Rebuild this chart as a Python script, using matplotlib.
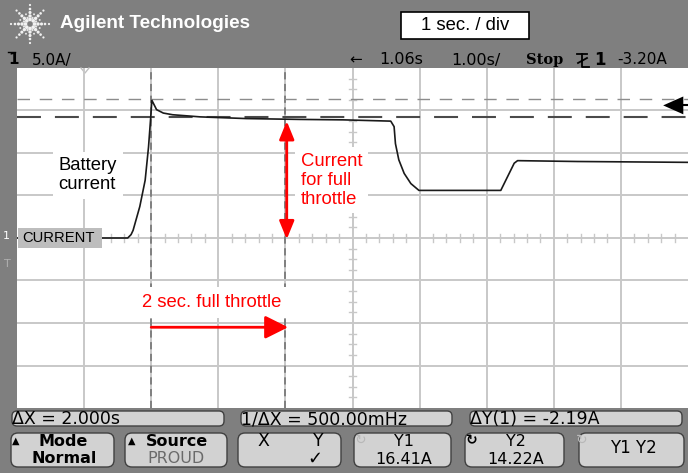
import matplotlib
matplotlib.use("Agg")
from matplotlib import pyplot as plt
from matplotlib.patches import FancyBboxPatch, Rectangle, Polygon
import numpy as np

# trace (time in s, current in A)
time_s = [0.0, 1.65, 1.70, 1.73, 1.83, 1.91, 1.96, 1.99, 2.01, 2.08, 2.18, 2.32,
          2.73, 3.42, 4.22, 4.86, 5.57, 5.62, 5.64, 5.69, 5.77, 5.87, 5.99,
          7.21, 7.31, 7.41, 7.46, 8.35, 10.0]
current_a = [0.0, 0.0, 0.4, 0.9, 3.7, 6.8, 10.7, 13.9, 16.2, 15.1, 14.7, 14.5,
             14.25, 14.05, 13.95, 13.9, 13.75, 13.1, 11.1, 9.2, 7.6, 6.4, 5.6,
             5.6, 7.2, 8.8, 9.1, 9.0, 8.9]

x_cursors = [2.0, 4.0]
y1_cursor = 16.41
y2_cursor = 14.22

top_labels = ["5.0A/", "\u2190", "1.06s", "1.00s/", "Stop", "1", "-3.20A"]
status_labels = ["\u0394X = 2.000s", "1/\u0394X = 500.00mHz", "\u0394Y(1) = -2.19A"]

W, H = 688, 473
BG = '#7f7f7f'
fig = plt.figure(figsize=(W / 100, H / 100), dpi=100, facecolor=BG)

# frame of the instrument, drawn underneath in pixel coordinates
ov = fig.add_axes([0, 0, 1, 1], zorder=0)
ov.set_xlim(0, W)
ov.set_ylim(H, 0)
ov.axis('off')
ov.add_patch(Rectangle((0, 0), W, H, facecolor=BG, edgecolor='none', zorder=0))
ov.add_patch(Rectangle((17, 68), 671, 340, facecolor='white', edgecolor='none', zorder=1))

# the scope screen, 10 div x 8 div, 1 s/div and 5 A/div
ax = fig.add_axes([17 / W, (H - 408) / H, 671 / W, 340 / H], zorder=1)
ax.patch.set_alpha(0)
ax.set_xlim(0, 10)
ax.set_ylim(-20, 20)
for s in ax.spines.values():
    s.set_visible(False)
ax.set_xticks([])
ax.set_yticks([])

grid_c = '#c8c8c8'
for i in range(1, 10):
    ax.axvline(i, color=grid_c, lw=1.4, zorder=1)
for j in range(-3, 4):
    ax.axhline(j * 5, color=grid_c, lw=1.4, zorder=1)
# small ticks on the centre lines
for k in range(1, 50):
    if k % 5:
        ax.plot([k * 0.2, k * 0.2], [-0.45, 0.45], color=grid_c, lw=1.0, zorder=1)
for k in range(-15, 16):
    if k % 4:
        ax.plot([4.95, 5.05], [k * 1.25, k * 1.25], color=grid_c, lw=1.0, zorder=1)

# cursors
for xc in x_cursors:
    ax.axvline(xc, color='#7a7a7a', lw=1.3, ls=(0, (4, 2.5)), zorder=2)
ax.axhline(y1_cursor, color='#8c8c8c', lw=1.0, ls=(0, (9, 7)), zorder=2)
ax.axhline(y2_cursor, color='#4a4a4a', lw=1.5, ls=(0, (11.5, 6.7)), zorder=2)

ax.plot(time_s, current_a, color='#1a1a1a', lw=1.2, zorder=4)

# annotations
txt_font = ['Liberation Sans', 'DejaVu Sans']
ax.text(0.62, 7.4, "Battery\ncurrent", fontsize=13.3, family=txt_font, color='black',
        ha='left', va='center', linespacing=1.15, zorder=5,
        bbox=dict(facecolor='white', edgecolor='none', pad=4))
ax.text(4.23, 6.8, "Current\nfor full\nthrottle", fontsize=13.3, family=txt_font,
        color='red', ha='left', va='center', linespacing=1.15, zorder=5,
        bbox=dict(facecolor='white', edgecolor='none', pad=4))
ax.text(1.86, -7.55, "2 sec. full throttle", fontsize=13.3, family=txt_font,
        color='red', ha='left', va='center', zorder=5,
        bbox=dict(facecolor='white', edgecolor='none', pad=5))
ax.annotate("", xy=(4.04, -10.5), xytext=(x_cursors[0], -10.5), zorder=6,
            arrowprops=dict(arrowstyle='-|>,head_length=1.4,head_width=0.7',
                            color='red', lw=2, shrinkA=0, shrinkB=0))
ax.annotate("", xy=(4.02, 13.75), xytext=(4.02, -0.15), zorder=6,
            arrowprops=dict(arrowstyle='<|-|>,head_length=1.1,head_width=0.45',
                            color='red', lw=2, shrinkA=0, shrinkB=0))

# ground label of channel 1 (covers the start of the trace)
ax.add_patch(Rectangle((0.015, -1.18), 1.25, 2.36, facecolor='#bdbdbd',
                       edgecolor='none', zorder=7))
ax.text(0.075, 0.0, "CURRENT", fontsize=10.6, family=txt_font, color='black',
        ha='left', va='center', zorder=8)
# trigger level marker
ax.add_patch(Polygon([[9.63, 15.6], [9.93, 16.65], [9.93, 14.55]], closed=True,
                     facecolor='black', edgecolor='none', zorder=7))
ax.plot([9.93, 10.0], [15.6, 15.6], color='black', lw=1.5, zorder=7)

# logo
cx, cy = 30, 24
for ang in np.arange(0, 360, 45):
    r = np.array([4.5, 8, 11.5, 15, 19])
    ov.scatter(cx + r * np.cos(np.radians(ang)), cy + r * np.sin(np.radians(ang)),
               s=[7, 6, 5, 3.5, 2.5], color='#f2f2f2', lw=0, zorder=3)
for ang in np.arange(22.5, 360, 45):
    r = np.array([6.5, 10.5])
    ov.scatter(cx + r * np.cos(np.radians(ang)), cy + r * np.sin(np.radians(ang)),
               s=[3, 2], color='#e6e6e6', lw=0, zorder=3)
ov.text(60, 23, "Agilent Technologies", fontsize=13.6, fontweight='bold',
        family=txt_font, color='white', ha='left', va='center')

ov.add_patch(Rectangle((401, 12), 128, 27, facecolor='white', edgecolor='black',
                       lw=1.2, zorder=3))
ov.text(465, 26, "1 sec. / div", fontsize=13.3, family=txt_font, ha='center', va='center')

scope_font = 'DejaVu Sans'
ov.text(8, 60, "1", fontsize=11, fontweight='bold', family=scope_font, va='center')
ov.plot([8, 15], [52, 52], color='black', lw=1)
ov.text(32, 60, top_labels[0], fontsize=11, family=scope_font, va='center')
ov.text(349, 60, top_labels[1], fontsize=11, family=scope_font, va='center')
ov.text(379, 60, top_labels[2], fontsize=11.5, family=scope_font, va='center')
ov.text(451, 60, top_labels[3], fontsize=11.5, family=scope_font, va='center')
ov.text(526, 60, top_labels[4], fontsize=10.5, fontweight='bold', family='DejaVu Serif', va='center')
# trigger slope symbol
ov.plot([577, 587], [54, 54], color='black', lw=1.3)
ov.plot([582, 582, 589], [54, 67, 67], color='black', lw=1.3)
ov.plot([578, 587], [63, 58], color='black', lw=1.3)
ov.text(594, 60, top_labels[5], fontsize=12, fontweight='bold', family=scope_font, va='center')
ov.text(617, 60, top_labels[6], fontsize=11, family=scope_font, va='center')

# markers on the screen edges
ov.plot([81, 85, 89], [68, 73, 68], color='#c0c0c0', lw=1, zorder=3)
ov.text(3, 236, "1", fontsize=8, color='white', family=scope_font, va='center')
ov.text(4, 264, "T", fontsize=8, color='#b0b0b0', family=scope_font, va='center')

# status line
for (x0, x1), lab in zip([(8, 228), (237, 456), (466, 686)], status_labels):
    ov.add_patch(FancyBboxPatch((x0 + 4, 411), x1 - x0 - 8, 15,
                                boxstyle='round,pad=0,rounding_size=5',
                                facecolor='#d2d2d2', edgecolor='#404040', lw=1, zorder=3))
    ov.text(x0 + 4, 419, lab, fontsize=12.5, family=scope_font, va='center')

# softkeys
keys = [(8, 117), (122, 230), (235, 344), (351, 454), (462, 567), (576, 687)]
for x0, x1 in keys:
    ov.add_patch(FancyBboxPatch((x0 + 3, 433), x1 - x0 - 6, 34,
                                boxstyle='round,pad=0,rounding_size=7',
                                facecolor='#d2d2d2', edgecolor='#404040', lw=1, zorder=3))
ov.text(16, 441, "\u25b2", fontsize=7, family=scope_font, ha='center', va='center')
ov.text(63, 441, "Mode", fontsize=11.5, fontweight='bold', family=scope_font, ha='center', va='center')
ov.text(64, 458, "Normal", fontsize=11.5, fontweight='bold', family=scope_font, ha='center', va='center')
ov.text(132, 441, "\u25b2", fontsize=7, family=scope_font, ha='center', va='center')
ov.text(177, 441, "Source", fontsize=11.5, fontweight='bold', family=scope_font, ha='center', va='center')
ov.text(176, 458, "PROUD", fontsize=11.5, color='#6a6a6a', family=scope_font, ha='center', va='center')
ov.text(263, 441, "X", fontsize=12.5, family=scope_font, ha='center', va='center')
ov.text(318, 441, "Y", fontsize=12.5, family=scope_font, ha='center', va='center')
ov.text(315, 459, "\u2713", fontsize=13, fontweight='bold', family=scope_font, ha='center', va='center')
ov.text(361, 440, "\u21bb", fontsize=10, color='#b8b8b8', family=scope_font, ha='center', va='center')
ov.text(404, 441, "Y1", fontsize=11.5, family=scope_font, ha='center', va='center')
ov.text(404, 459, "%.2fA" % y1_cursor, fontsize=11.5, family=scope_font, ha='center', va='center')
ov.text(472, 440, "\u21bb", fontsize=10, fontweight='bold', family=scope_font, ha='center', va='center')
ov.text(516, 441, "Y2", fontsize=11.5, family=scope_font, ha='center', va='center')
ov.text(516, 459, "%.2fA" % y2_cursor, fontsize=11.5, family=scope_font, ha='center', va='center')
ov.text(582, 440, "\u21bb", fontsize=10, color='#b8b8b8', family=scope_font, ha='center', va='center')
ov.text(633, 448, "Y1 Y2", fontsize=12, family=scope_font, ha='center', va='center')

plt.savefig('out.png', dpi=100, facecolor=BG)
